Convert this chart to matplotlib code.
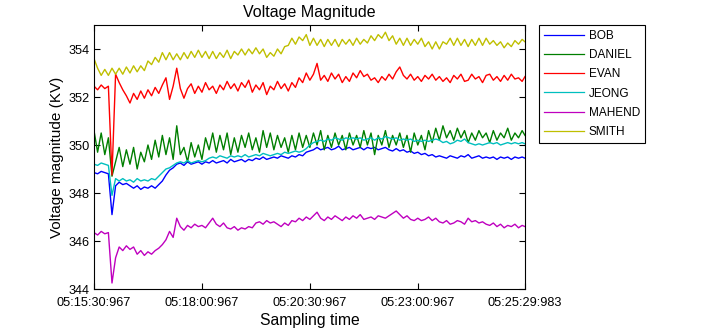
import matplotlib
matplotlib.use("Agg")
import matplotlib.pyplot as plt

plt.rcParams['font.family'] = ['Liberation Sans', 'DejaVu Sans']

# sampling time, seconds after 05:15:30.967
t_sec = [5 * i for i in range(120)] + [599.016]

tick_pos = [0, 150, 300, 450, 599.016]
tick_labels = ["05:15:30:967", "05:18:00:967", "05:20:30:967", "05:23:00:967", "05:25:29:983"]
y_ticks = [344, 346, 348, 350, 352, 354]

names = ["BOB", "DANIEL", "EVAN", "JEONG", "MAHEND", "SMITH"]
colors = ["#0000ff", "#007f00", "#ff0000", "#00bfbf", "#bf00bf", "#bfbf00"]

BOB = [
    348.85, 348.8, 348.9, 348.85, 348.8, 347.1, 348.3, 348.45, 348.35, 348.4,
    348.3, 348.2, 348.3, 348.15, 348.25, 348.2, 348.3, 348.2, 348.35, 348.5,
    348.75, 348.95, 349.05, 349.2, 349.25, 349.15, 349.3, 349.2, 349.25, 349.3,
    349.2, 349.3, 349.25, 349.35, 349.25, 349.3, 349.35, 349.25, 349.4, 349.3,
    349.35, 349.4, 349.3, 349.4, 349.35, 349.45, 349.4, 349.5, 349.4, 349.45,
    349.5, 349.45, 349.55, 349.5, 349.45, 349.55, 349.5, 349.6, 349.55, 349.7,
    349.75, 349.8, 349.9, 349.8, 349.85, 349.9, 349.8, 349.85, 349.95, 349.8,
    349.85, 349.9, 349.8, 349.85, 349.9, 349.8, 349.9, 349.85, 349.9, 349.8,
    349.85, 349.9, 349.8, 349.75, 349.85, 349.75, 349.8, 349.7, 349.75, 349.65,
    349.7, 349.6, 349.65, 349.55, 349.6, 349.5, 349.55, 349.5, 349.45, 349.55,
    349.5, 349.45, 349.55, 349.5, 349.6, 349.45, 349.5, 349.55, 349.45, 349.5,
    349.45, 349.5, 349.4, 349.5, 349.45, 349.5, 349.4, 349.5, 349.45, 349.5,
    349.45]

DANIEL = [
    350.6, 349.7, 350.5, 349.6, 350.3, 348.7, 349.3, 349.9, 349.1, 349.8,
    349.2, 349.9, 349.0, 349.7, 349.3, 350.0, 349.4, 350.2, 349.5, 350.4,
    349.6, 350.3, 349.4, 350.8, 349.6, 349.9, 349.3, 350.1, 349.5, 350.0,
    349.4, 350.3, 349.8, 350.5, 349.7, 350.4, 349.8, 350.5, 349.6, 350.3,
    349.7, 350.4, 349.9, 350.5, 349.8, 350.3, 349.7, 350.6, 349.9, 350.5,
    349.8, 350.4, 349.9, 350.3, 349.7, 350.4, 349.8, 350.5, 349.9, 350.4,
    349.9, 350.5, 350.0, 350.6, 349.8, 350.4, 349.9, 350.5, 350.0, 350.4,
    349.8, 350.5, 350.0, 350.4, 349.9, 350.6, 350.0, 350.5, 349.6, 350.4,
    350.0, 350.6, 349.9, 350.4, 350.0, 350.5, 349.9, 350.4, 349.7, 350.5,
    350.0, 350.4, 349.8, 350.6, 350.1, 350.7, 350.2, 350.8, 350.3, 350.6,
    350.2, 350.7, 350.3, 350.6, 350.1, 350.5, 350.2, 350.6, 350.3, 350.5,
    350.1, 350.6, 350.2, 350.5, 350.3, 350.7, 350.2, 350.5, 350.3, 350.6,
    350.4]

EVAN = [
    352.45, 352.3, 352.5, 352.35, 352.45, 348.75, 352.95, 352.6, 352.3, 352.05,
    351.75, 352.15, 351.9, 352.25, 351.95, 352.3, 352.05, 352.4, 352.15, 352.5,
    352.8, 351.9, 352.45, 353.2, 352.35, 351.95, 352.35, 352.55, 352.15, 352.45,
    352.2, 352.6, 352.3, 352.45, 352.15, 352.5, 352.3, 352.65, 352.35, 352.55,
    352.25, 352.6, 352.4, 352.7, 352.2, 352.5, 352.3, 352.6, 352.1, 352.45,
    352.3, 352.65, 352.35, 352.55, 352.25, 352.6, 352.4, 352.8, 352.6, 353.0,
    352.7, 352.95, 353.4, 352.7, 352.9, 352.65, 353.0, 352.75, 352.95, 352.6,
    352.85, 352.65, 353.0, 352.8, 353.1, 352.85, 352.95, 352.7, 352.8, 352.6,
    352.85, 352.7, 352.95, 352.75, 353.05, 353.25, 352.9, 352.75, 352.95, 352.7,
    352.85, 352.65, 352.9, 352.75, 352.95, 352.7, 352.85, 352.65, 352.8, 352.6,
    352.9, 352.75, 352.95, 352.65, 352.7, 352.95, 352.75, 352.85, 352.6, 352.9,
    352.95, 352.7, 352.85, 352.65, 352.9, 352.7, 352.95, 352.75, 352.8, 352.65,
    352.85]

JEONG = [
    349.2, 349.15, 349.25, 349.2, 349.15, 347.9, 348.6, 348.5, 348.6, 348.5,
    348.55, 348.45, 348.6, 348.5, 348.55, 348.5, 348.6, 348.55, 348.7, 348.85,
    349.0, 349.05, 349.15, 349.25, 349.3, 349.25, 349.35, 349.25, 349.3, 349.35,
    349.3, 349.35, 349.45, 349.5, 349.45, 349.55, 349.5, 349.45, 349.55, 349.5,
    349.55, 349.5, 349.6, 349.5, 349.55, 349.6, 349.55, 349.65, 349.6, 349.55,
    349.6, 349.65, 349.6, 349.7, 349.65, 349.7, 349.75, 349.7, 349.75, 349.85,
    350.0, 350.1, 350.15, 350.2, 350.15, 350.25, 350.2, 350.3, 350.25, 350.2,
    350.3, 350.25, 350.3, 350.25, 350.3, 350.2, 350.25, 350.3, 350.2, 350.3,
    350.25, 350.35, 350.3, 350.25, 350.3, 350.2, 350.25, 350.2, 350.25, 350.15,
    350.2, 350.15, 350.2, 350.15, 350.2, 350.25, 350.2, 350.1, 350.15, 350.05,
    350.1, 350.2, 350.15, 350.25, 350.1, 350.05, 350.0, 350.05, 350.0, 350.05,
    350.1, 350.05, 350.1, 350.0, 350.05, 350.1, 350.05, 350.1, 350.05, 350.1,
    350.05]

MAHEND = [
    346.35, 346.25, 346.4, 346.3, 346.35, 344.25, 345.3, 345.75, 345.6, 345.8,
    345.65, 345.75, 345.45, 345.6, 345.4, 345.55, 345.45, 345.6, 345.7, 345.85,
    346.05, 346.4, 346.15, 346.95, 346.6, 346.45, 346.65, 346.55, 346.7, 346.6,
    346.65, 346.55, 346.75, 346.95, 346.7, 346.6, 346.75, 346.55, 346.5, 346.6,
    346.45, 346.55, 346.5, 346.6, 346.55, 346.75, 346.8, 346.7, 346.85, 346.75,
    346.8, 346.7, 346.6, 346.75, 346.65, 346.85, 346.8, 346.95, 346.85, 347.0,
    346.9, 347.05, 347.2, 346.95, 346.85, 347.0, 346.9, 347.05, 346.95, 346.85,
    347.0, 346.9, 347.05, 346.95, 347.1, 346.9, 346.95, 347.0, 346.9, 347.05,
    347.0, 346.95, 347.05, 347.15, 347.25, 347.1, 346.95, 347.05, 346.9, 346.85,
    346.95, 346.85, 346.9, 347.0, 346.85, 346.95, 346.8, 346.75, 346.85, 346.7,
    346.75, 346.85, 346.8, 346.7, 346.95, 346.8, 346.85, 346.75, 346.8, 346.7,
    346.65, 346.75, 346.6, 346.7, 346.55, 346.65, 346.6, 346.7, 346.55, 346.65,
    346.6]

SMITH = [
    353.6, 353.2, 352.9, 353.15, 352.9, 353.2, 352.95, 353.2, 352.95, 353.25,
    353.0, 353.3, 353.05, 353.3, 353.1, 353.5, 353.35, 353.65, 353.45, 353.85,
    353.55, 353.85, 353.55, 353.8, 353.55, 353.85, 353.6, 353.9, 353.65, 353.95,
    353.65, 353.9, 353.6, 353.9, 353.6, 353.85, 353.65, 353.95, 353.6, 353.9,
    353.75, 354.0, 353.75, 354.0, 353.8, 354.05, 353.8, 354.0, 353.65, 353.85,
    353.7, 354.0, 353.8, 354.1, 354.15, 354.45, 354.2, 354.5, 354.35, 354.6,
    354.15, 354.45, 354.15, 354.4, 354.1, 354.4, 354.15, 354.4, 354.1, 354.4,
    354.2, 354.4, 354.15, 354.45, 354.2, 354.4, 354.25, 354.55, 354.35, 354.6,
    354.45, 354.7, 354.35, 354.55, 354.2, 354.45, 354.15, 354.45, 354.15, 354.4,
    354.2, 354.45, 354.1, 354.3, 354.0, 354.3, 354.0, 354.3, 354.2, 354.45,
    354.15, 354.45, 354.15, 354.4, 354.1, 354.4, 354.15, 354.45, 354.15, 354.45,
    354.2, 354.35, 354.15, 354.3, 354.05, 354.25, 354.1, 354.35, 354.2, 354.4,
    354.3]

series = [BOB, DANIEL, EVAN, JEONG, MAHEND, SMITH]
for s in series:
    assert len(s) == len(t_sec)

W, H = 725, 334
fig = plt.figure(figsize=(W / 100, H / 100), dpi=100)
ax = fig.add_axes([94 / W, 1 - 289 / H, (525 - 94) / W, (289 - 25) / H])

lines = []
for name, col, vals in zip(names, colors, series):
    ln, = ax.plot(t_sec, vals, color=col, lw=1.0, label=name)
    lines.append(ln)

ax.set_xlim(0, 599.016)
ax.set_ylim(344, 355)
ax.set_xticks(tick_pos)
ax.set_xticklabels(tick_labels)
ax.set_yticks(y_ticks)
ax.tick_params(direction='in', top=True, right=True, length=4, width=0.8,
               labelsize=9.2, colors='black')
ax.tick_params(axis='x', pad=6)
ax.tick_params(axis='y', pad=3)
for sp in ax.spines.values():
    sp.set_linewidth(0.8)
    sp.set_color('black')

ax.set_title("Voltage Magnitude", fontsize=11.5, pad=6)
ax.set_xlabel("Sampling time", fontsize=11.3, labelpad=3)
ax.set_ylabel("Voltage magnitude (KV)", fontsize=11, labelpad=3)

leg = fig.legend(handles=lines, loc='upper left',
                 bbox_to_anchor=(539 / W, 1 - 25 / H),
                 bbox_transform=fig.transFigure,
                 fontsize=8.5, frameon=True, fancybox=False, framealpha=1,
                 edgecolor='black', handlelength=3.4, handletextpad=0.35,
                 labelspacing=0.6, borderpad=0.45, borderaxespad=0)
leg.get_frame().set_linewidth(0.8)
for l in leg.get_lines():
    l.set_linewidth(0.9)

fig.savefig("out.png", dpi=100)
